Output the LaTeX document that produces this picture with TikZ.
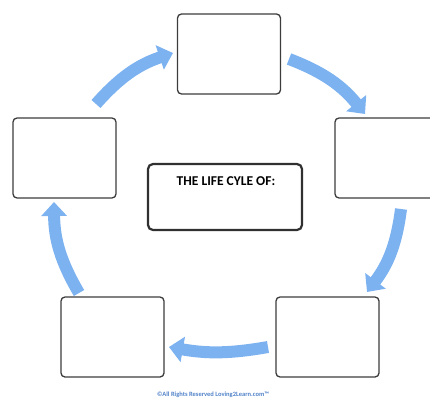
\documentclass[tikz,border=0pt]{standalone}
\usepackage{fontspec}
\setmainfont{Carlito}
\usetikzlibrary{arrows.meta}
\definecolor{cyclearrow}{RGB}{125,178,240}
\definecolor{boxline}{RGB}{60,60,60}
\definecolor{footblue}{RGB}{80,130,200}
\tikzset{
  stagebox/.style={draw=boxline, line width=1.3pt, rounded corners=4pt, fill=white,
    minimum width=103pt, minimum height=80pt, inner sep=0},
  titlebox/.style={draw=boxline!80!black, line width=2.2pt, rounded corners=5pt, fill=white,
    minimum width=154pt, minimum height=66pt, inner sep=0},
  cyclearrowstyle/.style={draw=cyclearrow, line width=12pt,
    -{Triangle[width=25pt,length=14pt]}, bend left=15},
}
\begin{document}
\begin{tikzpicture}[x=1pt,y=-1pt]
  \useasboundingbox (0,0) rectangle (430,401);
  \clip (0,0) rectangle (430,401);
  % stage boxes
  \node[stagebox] (top) at (229,54) {};
  \node[stagebox, minimum width=101pt] (right) at (385.5,158) {};
  \node[stagebox] (left) at (64.5,158) {};
  \node[stagebox] (botleft) at (112.5,337) {};
  \node[stagebox] (botright) at (327.5,337) {};
  % title box
  \node[titlebox] (titlebox) at (225,197) {};
  \node[font=\bfseries\fontsize{13.5}{15}\selectfont, inner sep=0] (title) at (226,181) {THE LIFE CYLE OF:};
  % arrow end points
  \coordinate (a1s) at (96,104);
  \coordinate (a1e) at (173,53);
  \coordinate (a2s) at (289,59);
  \coordinate (a2e) at (365,114);
  \coordinate (a3s) at (401,209);
  \coordinate (a3e) at (367,292);
  \coordinate (a4s) at (268,347);
  \coordinate (a4e) at (169,347);
  \coordinate (a5s) at (79,293);
  \coordinate (a5e) at (54,202);
  % cycle arrows
  \draw[cyclearrowstyle] (a1s) to (a1e);
  \draw[cyclearrowstyle] (a2s) to (a2e);
  \draw[cyclearrowstyle] (a3s) to (a3e);
  \draw[cyclearrowstyle, bend left=10] (a4s) to (a4e);
  \draw[cyclearrowstyle] (a5s) to (a5e);
  % footer
  \node[font=\bfseries\fontsize{6.5}{8}\selectfont, text=footblue, inner sep=0] (foot) at (213,395) {\textcopyright All Rights Reserved Loving2Learn.com\texttrademark};
\end{tikzpicture}
\end{document}
